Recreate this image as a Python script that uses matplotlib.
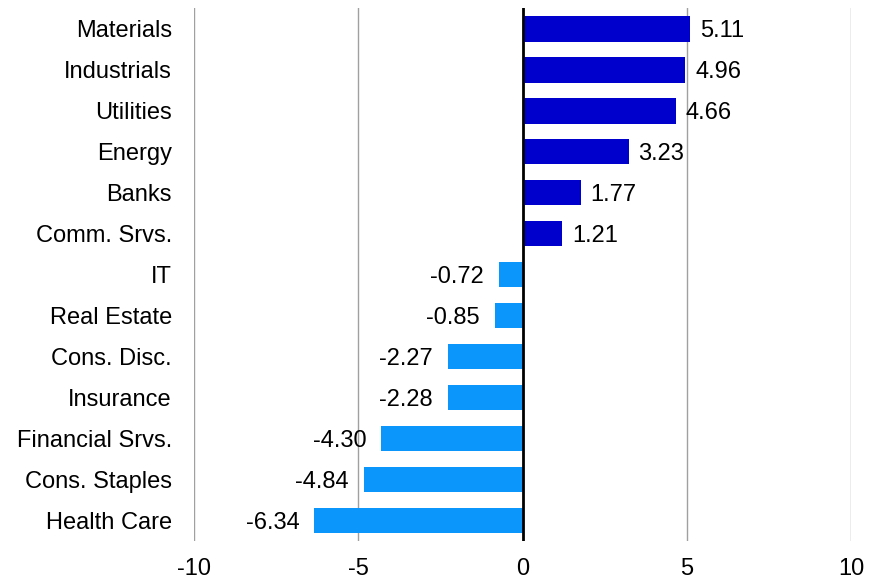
import numpy as np
import matplotlib.pyplot as plt

plt.rcParams['font.family'] = ['Liberation Sans', 'DejaVu Sans']

sectors = ["Materials", "Industrials", "Utilities", "Energy", "Banks",
           "Comm. Srvs.", "IT", "Real Estate", "Cons. Disc.", "Insurance",
           "Financial Srvs.", "Cons. Staples", "Health Care"]
values = [5.11, 4.96, 4.66, 3.23, 1.77, 1.21, -0.72, -0.85, -2.27, -2.28,
          -4.30, -4.84, -6.34]
xticks = [-10, -5, 0, 5, 10]

pos_color = "#0000CC"
neg_color = "#0A96FA"

fig = plt.figure(figsize=(8.69, 5.79), dpi=100)
ax = fig.add_axes([0.2233, 0.0656, 0.756, 0.9204])

y = np.arange(len(sectors))
colors = [pos_color if v >= 0 else neg_color for v in values]
ax.barh(y, values, height=0.63, color=colors, zorder=2)

# value labels beside each bar
for yi, v in zip(y, values):
    off = 0.3 if v >= 0 else -0.45
    ax.text(v + off, yi, f"{v:.2f}", va="center_baseline",
            ha="left" if v >= 0 else "right", fontsize=17)

ax.set_xlim(-10, 10)
ax.set_ylim(len(sectors) - 0.5, -0.5)
ax.set_xticks(xticks)
ax.set_xticklabels([str(t) for t in xticks], fontsize=17)
ax.set_yticks(y)
ax.set_yticklabels(sectors, fontsize=17)
ax.tick_params(axis='y', length=0, pad=16)
ax.tick_params(axis='x', length=0, pad=12)

for t in [-10, -5, 5, 10]:
    ax.axvline(t, color="#A0A0A0", lw=1, zorder=1)
ax.axvline(0, color="black", lw=2, zorder=3)

for s in ax.spines.values():
    s.set_visible(False)

fig.savefig("out.png", dpi=100)
